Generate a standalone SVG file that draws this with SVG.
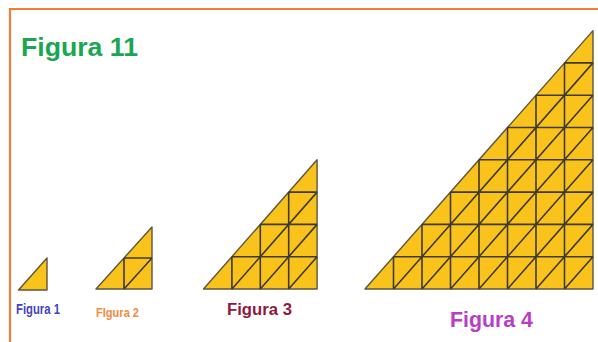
<svg xmlns="http://www.w3.org/2000/svg" width="598" height="342" viewBox="0 0 598 342">
<style>
.tri{fill:#f9c31c;stroke:#5e5540;stroke-width:1.4;stroke-linejoin:round}
.grid{fill:none;stroke:#3f3a2c;stroke-width:1.6}
.lbl{font-family:"Liberation Sans",Arial,sans-serif;font-weight:bold}
</style>
<rect width="598" height="342" fill="#ffffff"/>
<path d="M10,343 V9 H598" fill="none" stroke="#ef7d3c" stroke-width="2.2"/>
<text class="lbl" x="21" y="55.5" font-size="26.5" fill="#1aa653" textLength="117" lengthAdjust="spacingAndGlyphs">Figura 11</text>

<g id="fig1">
<polygon class="tri" points="18.5,290 47,290 47,258"/>
<text class="lbl" x="16" y="313.5" font-size="14" fill="#4343bd" textLength="44" lengthAdjust="spacingAndGlyphs">Figura 1</text>
</g>

<g id="fig2">
<polygon class="tri" points="96,289 152,289 152,227"/>
<path class="grid" d="M124,289 V258 M124,258 H152 M124,289 L152,258"/>
<text class="lbl" x="96" y="316.5" font-size="13.5" fill="#f28a3e" textLength="43" lengthAdjust="spacingAndGlyphs">FIgura 2</text>
</g>

<g id="fig3">
<polygon class="tri" points="203.5,289 317.1,289 317.1,159.8"/>
<path class="grid" d="M231.9,256.7 H317.1 M260.3,224.4 H317.1 M288.7,192.1 H317.1
M231.9,289 V256.7 M260.3,289 V224.4 M288.7,289 V192.1
M231.9,289 L317.1,192.1 M260.3,289 L317.1,224.4 M288.7,289 L317.1,256.7"/>
<text class="lbl" x="227" y="315" font-size="16" fill="#8c1a3c" textLength="65" lengthAdjust="spacingAndGlyphs">Figura 3</text>
</g>

<g id="fig4">
<polygon class="tri" points="365,289 593,289 593,30.6"/>
<path class="grid" d="M393.5,256.7 H593 M422,224.4 H593 M450.5,192.1 H593 M479,159.8 H593 M507.5,127.5 H593 M536,95.2 H593 M564.5,62.9 H593
M393.5,289 V256.7 M422,289 V224.4 M450.5,289 V192.1 M479,289 V159.8 M507.5,289 V127.5 M536,289 V95.2 M564.5,289 V62.9
M393.5,289 L593,62.9 M422,289 L593,95.2 M450.5,289 L593,127.5 M479,289 L593,159.8 M507.5,289 L593,192.1 M536,289 L593,224.4 M564.5,289 L593,256.7"/>
<text class="lbl" x="450" y="327" font-size="21.5" fill="#b83ec8" textLength="83" lengthAdjust="spacingAndGlyphs">Figura 4</text>
</g>
</svg>
